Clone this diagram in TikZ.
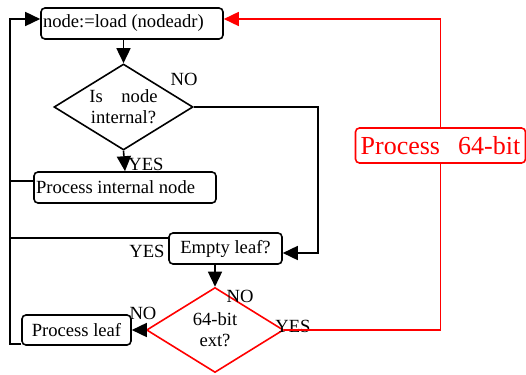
\documentclass[tikz,border=0pt]{standalone}
\usepackage{fontspec}
\setmainfont{Liberation Serif}
\usetikzlibrary{shapes.geometric,arrows.meta,positioning,calc}

\begin{document}
\begin{tikzpicture}[
    x=1pt, y=-1pt,
    font=\fontsize{18.6}{21}\selectfont,
    line width=1.6pt,
    block/.style={rectangle, draw, rounded corners=4pt, inner sep=2pt, minimum height=31pt, align=center},
    leftblock/.style={block, text width=#1, align=flush left},
    decision/.style={diamond, draw, aspect=1.6, inner sep=0pt, align=center, minimum width=139pt, minimum height=86pt},
    redblock/.style={block, draw=red, text=red, font=\fontsize{26}{30}\selectfont, minimum height=35pt},
    arrow/.style={-{Triangle[length=15pt,width=14pt]}},
    tag/.style={inner sep=0pt}
]
\useasboundingbox (0,0) rectangle (526,374);

% Steps
\node[leftblock=178pt] (load) at (132,23.5) {node:=load (nodeadr)};
\node[decision] (internal) at (123.5,107) {Is\hspace{1em}node\\internal?};
\node[leftblock=178pt] (procint) at (125,187.5) {Process internal node};
\node[block, minimum width=113pt] (empty) at (225.5,248.5) {Empty leaf?};
\node[decision, draw=red, minimum width=137pt, minimum height=85pt] (ext) at (215,330) {64-bit\\ext?};
\node[block, minimum width=109pt, minimum height=30pt] (procleaf) at (76.5,330) {Process leaf};
\node[redblock, minimum width=170pt] (proc64) at (440.5,145.5) {Process\hspace{0.7em}64-bit};

% Labels
\node[tag] (no1) at (184,79) {NO};
\node[tag] (yes1) at (146,164) {YES};
\node[tag] (yes2) at (147,251) {YES};
\node[tag] (no2) at (240,296) {NO};
\node[tag] (no3) at (143,313) {NO};
\node[tag] (yes3) at (293,326) {YES};

% Helper points
\coordinate (rail) at (10,0);
\coordinate (turn) at (318,0);

% Arrows
\draw[arrow] (load.south -| internal) -- (internal.north);
\draw[arrow] (internal.south) -- (procint.north);
\draw[arrow] (internal.east) -- (internal.east -| turn) |- ([yshift=-4.5pt]empty.east);
\draw[arrow] (empty.south -| ext) -- (ext.north);
\draw[arrow] (ext.west) -- (procleaf.east);

% Loop back
\draw[arrow] ([yshift=2pt]procleaf.south west) -- ([yshift=2pt]procleaf.south west -| rail) |- ([yshift=4.5pt]load.west);
\draw ([yshift=6.5pt]procint.west) -- ([yshift=6.5pt]procint.west -| rail);
\draw ([yshift=10.5pt]empty.west) -- ([yshift=10.5pt]empty.west -| rail);

% 64-bit path
\draw[red] (ext.east) -| (proc64.south);
\draw[red, arrow] (proc64.north) |- ([yshift=4.5pt]load.east);

\end{tikzpicture}
\end{document}
